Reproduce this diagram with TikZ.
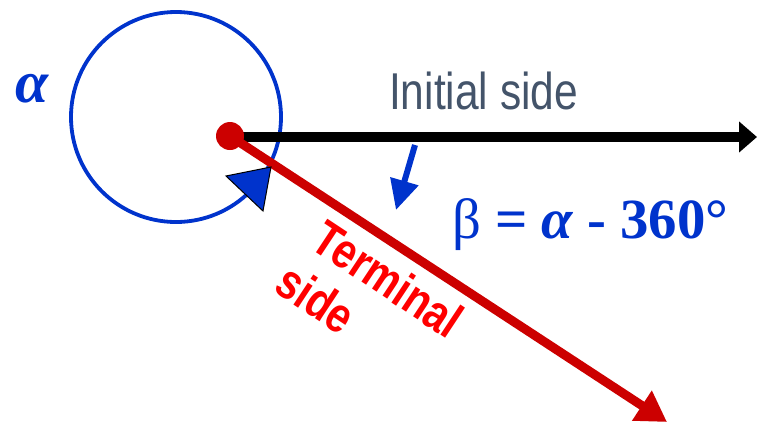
\documentclass[tikz,border=0pt]{standalone}
\usepackage{fontspec}
\setmainfont{Liberation Serif}
\newfontfamily\arialfont{Liberation Sans}
\usetikzlibrary{arrows.meta}
\definecolor{myblue}{RGB}{0,51,204}
\definecolor{myred}{RGB}{204,0,0}
\definecolor{brightred}{RGB}{255,0,0}
\definecolor{slate}{RGB}{68,84,106}
\tikzset{
  sidelabel/.style={font=\arialfont\fontsize{52}{56}\selectfont, text=slate, inner sep=0pt},
  termlabel/.style={font=\arialfont\bfseries\fontsize{50}{57}\selectfont, text=brightred, inner sep=0pt, align=left, rotate=-33.5, xscale=0.82},
  eqlabel/.style={font=\bfseries\fontsize{57}{60}\selectfont, text=myblue, inner sep=0pt},
}
\begin{document}
\begin{tikzpicture}[x=1bp,y=-1bp]
\useasboundingbox (0,0) rectangle (757,422);
% angle circle
\node[circle, draw=myblue, line width=3.8bp, minimum size=210bp, inner sep=0pt] (circ) at (176,117) {};
% origin
\coordinate (O) at (230,136);
\coordinate (initEnd) at (757,137);
\coordinate (termEnd) at (667,422);
\draw[line width=10bp, -{Triangle[length=18bp,width=30bp]}] (O |- initEnd) -- (initEnd);
\draw[myred, line width=9bp, -{Triangle[length=30bp,width=34bp]}] (O) -- (termEnd);
\node[circle, fill=myred, minimum size=28bp, inner sep=0pt] (dot) at (O) {};
% arrowhead of alpha
\filldraw[fill=myblue, draw=black, line width=1bp] (226,176) -- (271,167) -- (263,211) -- cycle;
% small beta arrow
\coordinate (bs) at (415,145);
\coordinate (be) at (396,210);
\draw[myblue, line width=6bp, -{Triangle[length=30bp,width=28bp]}] (bs) -- (be);
% labels
\node[anchor=base west, font=\bfseries\itshape\fontsize{60}{62}\selectfont, text=myblue, inner sep=0pt] (alpha) at (15,102) {α};
\node[sidelabel, anchor=base west, xscale=0.82] (init) at (389,109) {Initial side};
\node[eqlabel, anchor=base west] (eq) at (452,238) {{\mdseries β} = {\itshape α} - 360°};
\node[termlabel, anchor=base west] (term) at (278,294) {Terminal\\[-1pt]\hspace*{-8bp}side};
\end{tikzpicture}
\end{document}
